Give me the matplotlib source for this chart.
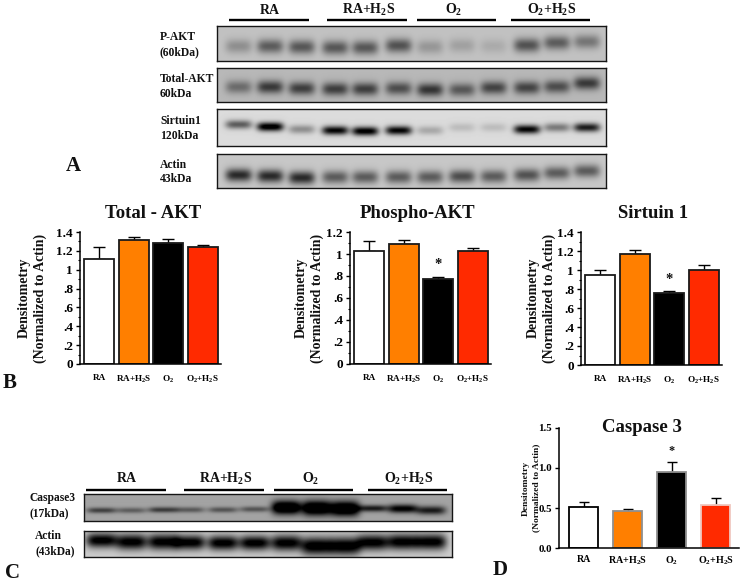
import numpy as np
import matplotlib
matplotlib.use("Agg")
import matplotlib.pyplot as plt

plt.rcParams['font.family'] = ['Liberation Serif', 'DejaVu Serif']
plt.rcParams['font.weight'] = 'bold'
plt.rcParams['mathtext.fontset'] = 'custom'
plt.rcParams['mathtext.rm'] = 'Liberation Serif:bold'
plt.rcParams['mathtext.bf'] = 'Liberation Serif:bold'
plt.rcParams['mathtext.default'] = 'rm'

W, H = 743, 583

# bar chart data
groups = ['RA', 'RA+H$_2$S', 'O$_2$', 'O$_2$+H$_2$S']
bar_colors = ['white', '#FF7F00', 'black', '#FF2A00']

total_akt = [1.11, 1.32, 1.285, 1.245]
total_akt_err = [0.13, 0.03, 0.045, 0.02]
phospho_akt = [1.03, 1.095, 0.77, 1.03]
phospho_akt_err = [0.085, 0.03, 0.02, 0.025]
sirtuin = [0.945, 1.17, 0.755, 0.995]
sirtuin_err = [0.055, 0.04, 0.02, 0.055]
caspase = [0.51, 0.46, 0.945, 0.54]
caspase_err = [0.06, 0.025, 0.125, 0.085]

ticks_14 = [0, 0.2, 0.4, 0.6, 0.8, 1.0, 1.2, 1.4]
ticks_12 = [0, 0.2, 0.4, 0.6, 0.8, 1.0, 1.2]
labels_14 = ['0', '.2', '.4', '.6', '.8', '1', '1.2', '1.4']
labels_12 = ['0', '.2', '.4', '.6', '.8', '1', '1.2']
ticks_15 = [0.0, 0.5, 1.0, 1.5]
labels_15 = ['0.0', '0.5', '1.0', '1.5']

# blot data: lane centres as a fraction of the panel, band darkness, band height
lanes_a = [.056, .137, .218, .304, .381, .467, .548, .630, .711, .797, .874, .951]
lanes_c = [.048, .129, .215, .288, .378, .464, .550, .632, .709, .785, .866, .943]

pakt_dark = [.20, .40, .42, .42, .42, .44, .17, .13, .09, .44, .40, .30]
pakt_y = [.58, .58, .60, .62, .62, .56, .60, .56, .58, .55, .48, .45]
takt_dark = [.30, .50, .48, .48, .48, .42, .52, .38, .46, .46, .42, .50]
takt_y = [.56, .56, .60, .62, .62, .60, .64, .64, .58, .58, .55, .45]
sirt_dark = [.50, .95, .30, .85, .90, .85, .20, .12, .12, .85, .38, .75]
sirt_y = [.42, .48, .55, .58, .60, .58, .58, .50, .50, .55, .50, .50]
actin_dark = [.62, .62, .62, .42, .42, .42, .42, .48, .42, .46, .42, .42]
actin_y = [.62, .65, .70, .68, .68, .68, .68, .66, .66, .62, .56, .50]

casp_dark = [.40, .28, .42, .30, .32, .32, .95, .95, .95, .55, .68, .55]
casp_y = [.62, .62, .60, .60, .60, .58, .52, .54, .56, .55, .56, .62]
casp_sig = [.10, .10, .10, .10, .10, .10, .24, .26, .26, .12, .15, .15]
actin2_dark = [.85, .85, .85, .85, .85, .85, .85, .90, .90, .85, .85, .85]
actin2_y = [.36, .42, .42, .44, .46, .46, .46, .58, .58, .44, .42, .42]
actin2_sig = [.28, .30, .30, .28, .28, .28, .30, .34, .34, .30, .30, .30]

fig = plt.figure(figsize=(W / 100, H / 100), dpi=100, facecolor='white')


def px_axes(x0, y0, x1, y1):
    return fig.add_axes([x0 / W, 1 - y1 / H, (x1 - x0) / W, (y1 - y0) / H])


def label(x, y, s, size=8, ha='center', va='center', rotation=0, linespacing=1.2):
    fig.text(x / W, 1 - y / H, s, fontsize=size, ha=ha, va=va, rotation=rotation,
             fontweight='bold', color='#111111', linespacing=linespacing)


def blot(box, lanes, dark, ys, sigma, bg, half_width=.034):
    x0, y0, x1, y1 = box
    w, h = x1 - x0, y1 - y0
    xx, yy = np.meshgrid((np.arange(w) + .5) / w, (np.arange(h) + .5) / h)
    img = np.full((h, w), float(bg))
    sigmas = sigma if np.iterable(sigma) else [sigma] * len(lanes)
    for lx, d, ly, s in zip(lanes, dark, ys, sigmas):
        img -= d * np.exp(-((xx - lx) / half_width) ** 4 - ((yy - ly) / s) ** 2)
    ax = px_axes(x0, y0, x1, y1)
    ax.imshow(np.clip(img, 0, 1), cmap='gray', vmin=0, vmax=1, aspect='auto', interpolation='bilinear')
    ax.set_xticks([])
    ax.set_yticks([])
    for s in ax.spines.values():
        s.set_linewidth(1.0)
        s.set_color('#151515')


def header(xs, spans, y_text, y_line):
    overlay = px_axes(0, 0, W, H)
    overlay.set_xlim(0, W)
    overlay.set_ylim(H, 0)
    overlay.axis('off')
    overlay.patch.set_alpha(0)
    for x, g, (a, b) in zip(xs, groups, spans):
        overlay.plot([a, b], [y_line, y_line], color='black', lw=1.7, solid_capstyle='butt')
        label(x, y_text, g, size=10)


def bar_chart(box, vals, errs, yticks, ylabels, ymax, width, title, title_x, title_y,
              ylab_x, ylab_y, tick_y, star=None, minor=None, edges=None, tick_size=9.5, lab_size=10,
              cat_size=6.6, linespacing=1.25):
    x0, y0, x1, y1 = box
    ax = px_axes(x0, y0, x1, y1)
    x = np.arange(len(vals))
    ax.bar(x, vals, width=width, color=bar_colors, edgecolor=edges or '#1a1a1a',
           linewidth=1.3, zorder=2)
    for xi, v, e in zip(x, vals, errs):
        ax.errorbar(xi, v, yerr=[[0], [e]], color='black', capsize=width * 5, elinewidth=1.0,
                    capthick=1.0, zorder=1)
    ax.set_xlim(-.56, 3.53)
    ax.set_ylim(0, ymax)
    ax.set_yticks(yticks)
    ax.set_yticklabels(ylabels, fontsize=tick_size, fontweight='bold')
    if minor:
        ax.set_yticks(minor, minor=True)
    ax.tick_params(axis='y', which='major', length=3, width=1.0, pad=2)
    ax.tick_params(axis='y', which='minor', length=1.5, width=.8)
    ax.set_xticks(x)
    ax.set_xticklabels(groups, fontsize=cat_size, fontweight='bold')
    ax.tick_params(axis='x', length=0, pad=tick_y)
    ax.spines['top'].set_visible(False)
    ax.spines['right'].set_visible(False)
    ax.spines['left'].set_linewidth(1.1)
    ax.spines['bottom'].set_linewidth(1.1)
    ax.patch.set_alpha(0)
    label(title_x, title_y, title, size=13.5)
    label(ylab_x, ylab_y, 'Densitometry\n(Normalized to Actin)', size=lab_size, rotation=90,
          linespacing=linespacing)
    if star:
        label(star[0], star[1], '*', size=tick_size + 1)


# panel A blots
blot((217, 26, 606, 61), lanes_a, pakt_dark, pakt_y, .20, .76)
blot((217, 68, 606, 102), lanes_a, takt_dark, takt_y, .19, .72)
blot((217, 109, 606, 146), lanes_a, sirt_dark, sirt_y, .12, .86)
blot((217, 154, 606, 188), lanes_a, actin_dark, actin_y, .19, .78)
header([270, 369, 454, 552], [(229, 309), (327, 407), (417, 496), (511, 590)], 10, 20)

for (y, s) in [(37, 'P-AKT'), (52, '(60kDa)'), (79, 'Total-AKT'), (94, '60kDa'),
               (121, 'Sirtuin1'), (136, '120kDa'), (165, 'Actin'), (179, '43kDa')]:
    label(160, y, s, size=8.4, ha='left')
label(73, 166, 'A', size=15)

# panel B charts
minor_14 = list(np.arange(0.1, 1.4, 0.2))
minor_12 = list(np.arange(0.1, 1.2, 0.2))
bar_chart((80, 232, 221, 364), total_akt, total_akt_err, ticks_14, labels_14, 1.4, .87,
          'Total - AKT', 153, 214, 32, 298, 7, minor=minor_14)
bar_chart((350, 232, 491, 364), phospho_akt, phospho_akt_err, ticks_12, labels_12, 1.2, .87,
          'Phospho-AKT', 418, 214, 309, 298, 7, star=(438, 265), minor=minor_12)
bar_chart((581, 232, 722, 365), sirtuin, sirtuin_err, ticks_14, labels_14, 1.4, .87,
          'Sirtuin 1', 653, 214, 541, 298, 7, star=(669, 280), minor=minor_14)
label(10, 383, 'B', size=15)

# panel C blots
blot((84, 494, 452, 521), lanes_c, casp_dark, casp_y, casp_sig, .64, half_width=.04)
blot((84, 531, 452, 557), lanes_c, actin2_dark, actin2_y, actin2_sig, .80, half_width=.042)
header([127, 226, 311, 409], [(86, 166), (184, 264), (274, 353), (368, 447)], 479, 490)
label(30, 498, 'Caspase3', size=8.3, ha='left')
label(30, 513, '(17kDa)', size=8.3, ha='left')
label(35, 536, 'Actin', size=8.3, ha='left')
label(35, 551, '(43kDa)', size=8.3, ha='left')
label(13, 573, 'C', size=15)

# panel D chart
bar_chart((559, 428, 739, 548), caspase, caspase_err, ticks_15, labels_15, 1.5, .67,
          'Caspase 3', 642, 427, 531, 488, 5, star=(672, 451), tick_size=7.8,
          edges=['black', '#8f8f8f', '#8f8f8f', '#f0c8c0'], lab_size=6.8, cat_size=7.2)
label(500, 570, 'D', size=15)

plt.savefig('out.png', dpi=100)
plt.close()
